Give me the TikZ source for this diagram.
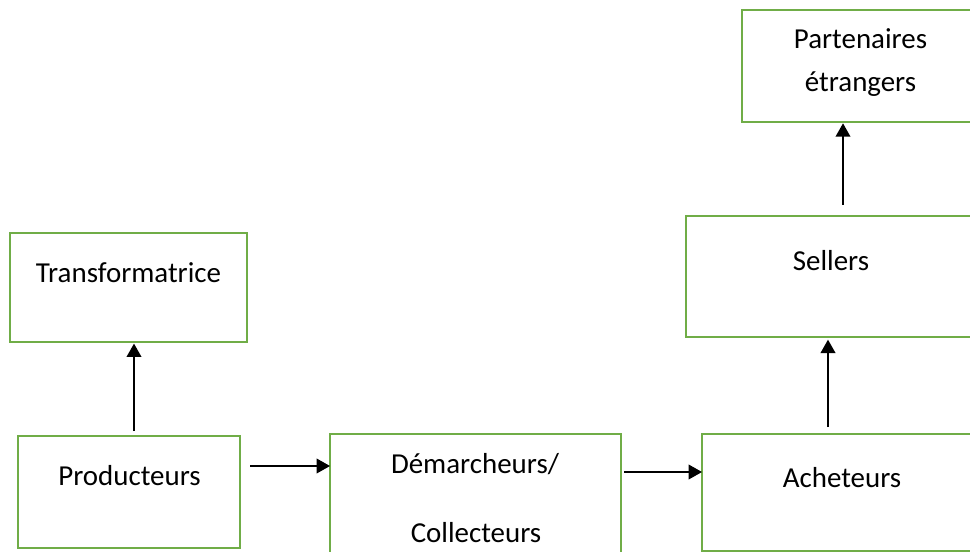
\documentclass[tikz,border=0pt]{standalone}
\usepackage{fontspec}
\setmainfont{Carlito}
\usetikzlibrary{arrows.meta}
\definecolor{boxgreen}{HTML}{70AD47}
\begin{document}
\begin{tikzpicture}[x=0.75pt,y=-0.75pt,
  box/.style={draw=boxgreen,line width=2.2pt,inner sep=0pt,outer sep=0pt,anchor=north west},
  lbl/.style={anchor=base,inner sep=0pt,font=\fontsize{21.7pt}{26pt}\selectfont},
  arr/.style={line width=1.1pt,-{Triangle[length=10pt,width=11pt]}}]
\clip (0,0) rectangle (970,552);
\fill[white] (0,0) rectangle (970,552);

% boxes
\node[box,minimum width=177.75pt,minimum height=81.75pt] (trans) at (10,233) {};
\node[box,minimum width=166.5pt,minimum height=84pt] (prod) at (18,436) {};
\node[box,minimum width=218.25pt,minimum height=102pt] (dem) at (330,434) {};
\node[box,minimum width=216pt,minimum height=87.75pt] (ach) at (702,434) {};
\node[box,minimum width=228pt,minimum height=90.75pt] (sell) at (686,216) {};
\node[box,minimum width=186pt,minimum height=84pt] (part) at (742,10) {};

% labels
\node[lbl] (transT) at (128.5,282.7) {Transformatrice};
\node[lbl] (prodT) at (129.5,485.7) {Producteurs};
\node[lbl] (demA) at (475,473) {Démarcheurs/};
\node[lbl] (demB) at (476,542) {Collecteurs};
\node[lbl] (achT) at (842,487.7) {Acheteurs};
\node[lbl] (sellT) at (831,271) {Sellers};
\node[lbl] (partA) at (860.5,48.3) {Partenaires};
\node[lbl] (partB) at (860.5,91.7) {étrangers};

% connector guides
\coordinate (xa) at (134,0);
\coordinate (ya) at (0,466);
\coordinate (yb) at (0,472);
\coordinate (xb) at (828,0);
\coordinate (xc) at (843,0);

% connectors
\draw[arr,shorten <=3.75pt,shorten >=1.2pt] (prod.north -| xa) -- (trans.south -| xa);
\draw[arr,shorten <=7.5pt] (prod.east |- ya) -- (dem.west |- ya);
\draw[arr,shorten <=2.25pt] (dem.east |- yb) -- (ach.west |- yb);
\draw[arr,shorten <=5.25pt,shorten >=2pt] (ach.north -| xb) -- (sell.south -| xb);
\draw[arr,shorten <=8.25pt,shorten >=1pt] (sell.north -| xc) -- (part.south -| xc);
\end{tikzpicture}
\end{document}
